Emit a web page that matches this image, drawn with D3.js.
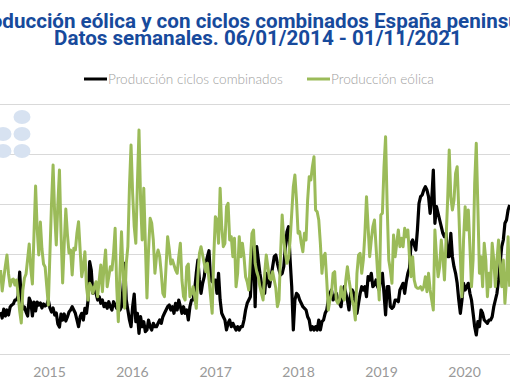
<!DOCTYPE html>
<html><head><meta charset="utf-8">
<script src="https://cdn.jsdelivr.net/npm/d3@7"></script>
<style>body{margin:0;background:#fff;overflow:hidden}svg{display:block}</style>
</head><body>
<svg id="chart" width="510" height="382"></svg>
<script>
const titleLines = ["Producción eólica y con ciclos combinados España peninsular",
                    "Datos semanales. 06/01/2014 - 01/11/2021"];
const seriesNames = ["Producción ciclos combinados", "Producción eólica"];
const firstWeek = "2014-06-02";
const yearTicks = ["2015", "2016", "2017", "2018", "2019", "2020"];
const yTicks = [0, 500, 1000, 1500, 2000, 2500];

// weekly values (GWh)
const ciclosCombinados = [
420,360,450,380,440,390,470,490,500,540,
540,580,820,550,450,470,420,380,560,520,
380,520,430,520,490,510,460,500,480,490,
540,460,420,460,390,410,300,270,400,340,
400,330,370,420,440,473,440,407,340,273,
373,407,340,457,407,540,923,840,607,673,
607,540,573,507,540,473,507,457,523,473,
440,523,490,457,473,440,473,673,907,540,
440,340,273,473,600,323,407,207,373,273,
323,223,240,340,273,240,307,273,273,307,
340,307,373,407,440,473,490,440,473,407,
507,440,540,473,407,473,407,440,340,473,
540,540,640,807,940,740,607,707,773,907,
973,1033,740,723,740,740,607,807,540,407,
373,340,240,307,340,273,307,273,240,273,
240,273,273,340,440,507,540,573,873,1123,
473,1073,940,807,707,657,607,807,740,673,
773,873,973,990,907,840,790,807,873,1073,
1223,1273,940,673,240,540,607,590,540,507,
473,457,440,373,340,240,273,240,273,240,
340,240,323,340,407,440,540,607,640,540,
573,607,540,507,473,607,673,607,540,440,
607,640,607,407,407,507,607,673,640,673,
573,773,740,807,673,690,740,673,640,773,
807,607,390,673,673,473,457,473,540,540,
523,640,673,707,607,723,807,857,1107,1140,
1090,1040,1240,1507,1573,1590,1640,1673,1640,1573,
1407,1540,1840,1307,1473,1407,1340,1273,1207,1173,
1207,973,973,1207,973,873,807,707,540,407,
540,707,640,673,707,607,540,407,273,190,
323,273,440,407,340,323,307,340,340,373,
473,540,607,740,907,1073,1140,1307,1340,1440,
1490];

const eolica = [
840,630,760,880,990,800,680,740,750,690,
740,600,430,310,640,760,800,950,1100,850,
700,1200,1680,1250,990,1320,1050,900,870,680,
490,1000,1500,1890,1400,1090,1500,1840,1200,710,
1100,1450,1200,1010,1040,790,1057,1040,1210,1323,
1040,773,873,1023,673,540,707,673,607,673,
723,573,740,890,623,873,1040,673,773,873,
840,1007,1257,673,323,807,1223,807,457,907,
1073,1673,2090,1607,1273,1107,1707,2240,1540,1140,
1657,1100,560,1040,1357,1307,1140,807,973,1040,
973,807,607,573,873,1173,1050,900,940,890,
840,807,973,1107,740,573,540,873,900,573,
607,673,573,457,773,1007,1073,990,907,823,
907,740,573,407,973,1373,1340,1107,1657,1273,
1073,1107,1473,1507,1140,1173,973,1157,673,807,
1173,973,1107,973,773,723,640,940,1207,1240,
907,823,773,673,607,540,807,990,873,757,
740,823,740,657,473,540,1007,1390,1140,1007,
907,957,1140,1407,1673,1790,1540,1207,1223,1107,
1023,1207,1140,1540,1773,1740,1873,1973,1440,1423,
1340,1107,807,973,1007,740,440,540,607,807,
823,540,507,540,673,573,540,740,873,740,
640,540,473,340,807,990,1007,807,940,1207,
1573,1273,973,1140,1273,1340,1073,807,540,1390,
1407,1873,2173,1473,940,840,707,1190,973,1107,
1240,1073,1157,1073,1257,1173,1240,973,773,973,
740,673,657,657,673,640,673,773,623,807,
640,540,440,1240,973,773,873,1140,973,740,
1140,1540,2040,1573,1440,1540,1807,1873,1440,973,
573,1140,1473,1240,1440,1073,673,940,1707,2107,
1473,807,973,673,1107,940,573,807,673,1107,
940,673,940,1140,873,673,940,507,740,1173,
673];

const colors = {ccgt: "#000000", wind: "#9bbb59", title: "#174a9c", grid: "#d9d9d9", text: "#8c8c8c", logo: "#d7e2f1"};

const svg = d3.select("#chart");
const parseDay = d3.utcParse("%Y-%m-%d");
const parseYear = d3.utcParse("%Y");
const start = parseDay(firstWeek);
const toPoints = arr => arr.map((v, i) => ({date: d3.utcDay.offset(start, 7 * i), v}));

const x = d3.scaleUtc()
  .domain([parseYear("2015"), parseYear("2020")])
  .range([49, 464]);
const y = d3.scaleLinear().domain([0, 2500]).range([354, 104]);

// gridlines
svg.append("g").selectAll("line").data(yTicks).join("line")
  .attr("x1", 0).attr("x2", 510)
  .attr("y1", d => y(d) + 0.5).attr("y2", d => y(d) + 0.5)
  .attr("stroke", colors.grid).attr("stroke-width", 1);

// logo dots (watermark)
const logoDots = [[22, 117], [3, 134], [22, 134], [3, 151], [22, 151]];
svg.append("g").selectAll("ellipse").data(logoDots).join("ellipse")
  .attr("cx", d => d[0]).attr("cy", d => d[1]).attr("rx", 8.5).attr("ry", 7)
  .attr("fill", colors.logo);

// x axis labels
const xAxis = d3.axisBottom(x)
  .tickValues(yearTicks.map(parseYear))
  .tickFormat(d3.utcFormat("%Y"))
  .tickSize(0).tickPadding(0);
const gx = svg.append("g").attr("transform", "translate(0,366)").call(xAxis);
gx.select(".domain").remove();
gx.selectAll("text").attr("fill", "#999999").attr("font-size", 14)
  .attr("font-family", "Lato, 'Open Sans', sans-serif").attr("dy", "0.75em");

// lines
const line = d3.line().x(d => x(d.date)).y(d => y(d.v));
svg.append("path").datum(toPoints(ciclosCombinados))
  .attr("d", line).attr("fill", "none").attr("stroke", colors.ccgt)
  .attr("stroke-width", 3.2).attr("stroke-linejoin", "round");
svg.append("path").datum(toPoints(eolica))
  .attr("d", line).attr("fill", "none").attr("stroke", colors.wind)
  .attr("stroke-width", 3).attr("stroke-linejoin", "round");

// title
const tg = svg.append("g");
const t1 = tg.append("text").text(titleLines[0]).attr("x", 257).attr("y", 28);
const t2 = tg.append("text").text(titleLines[1]).attr("x", 258).attr("y", 45);
tg.selectAll("text").attr("text-anchor", "middle").attr("fill", colors.title)
  .attr("font-family", "Roboto, 'Open Sans', sans-serif").attr("font-weight", 700)
  .attr("font-size", 18);
const w2 = t2.node().getComputedTextLength();
const fs = 18 * 408 / w2;
tg.selectAll("text").attr("font-size", fs);

// legend
const legend = [
  {name: seriesNames[0], color: colors.ccgt, x0: 84, tw: 175},
  {name: seriesNames[1], color: colors.wind, x0: 307, tw: 103}
];
legend.forEach(l => {
  svg.append("line").attr("x1", l.x0).attr("x2", l.x0 + 23)
    .attr("y1", 79).attr("y2", 79).attr("stroke", l.color).attr("stroke-width", 3);
  const t = svg.append("text").text(l.name).attr("x", l.x0 + 24).attr("y", 83.5)
    .attr("fill", "#a0a0a0").attr("font-family", "Lato, 'Open Sans', sans-serif")
    .attr("font-weight", 300).attr("font-size", 13);
  const w = t.node().getComputedTextLength();
  t.attr("font-size", 13 * l.tw / w);
});
</script>
</body></html>
